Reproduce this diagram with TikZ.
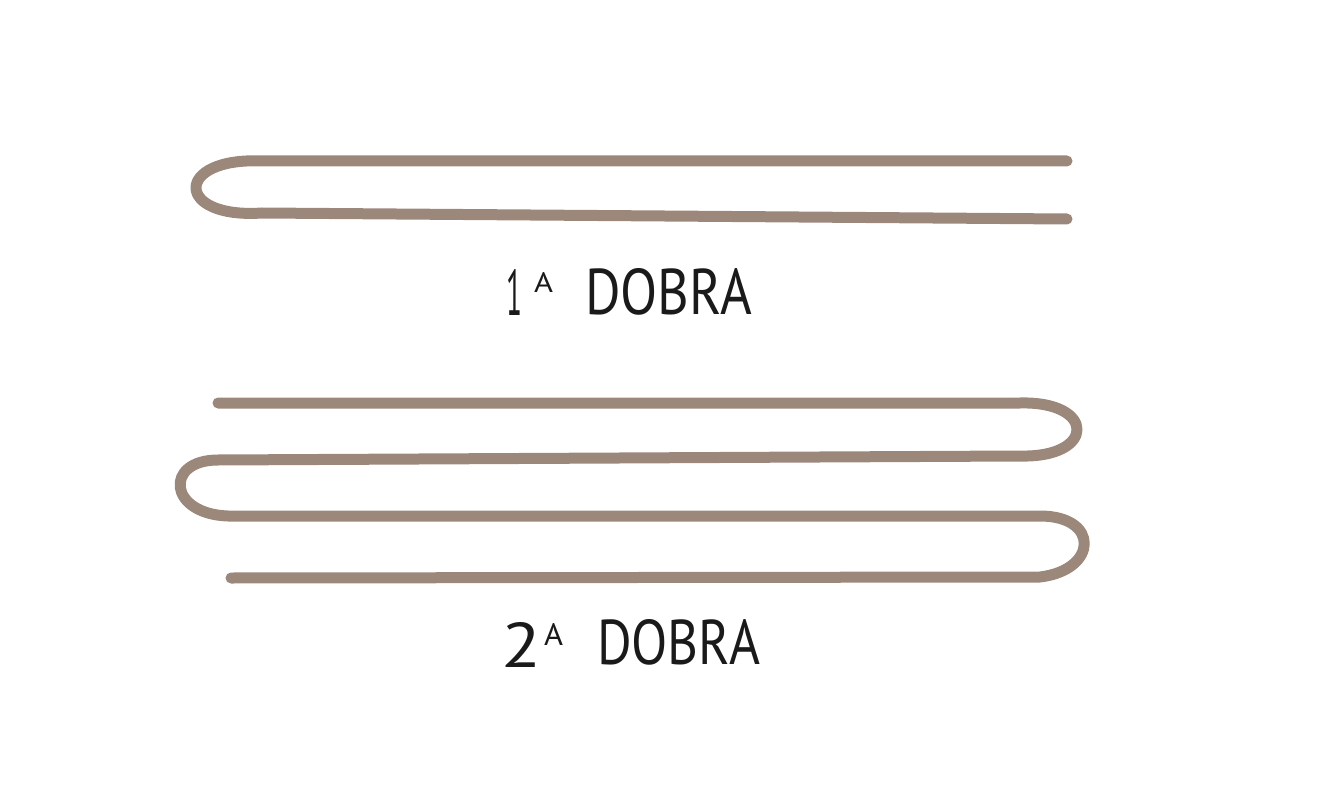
\documentclass[tikz,border=0pt]{standalone}
\usepackage{fontspec}
\setmainfont{PT Sans}
\definecolor{fold}{HTML}{9C877B}
\definecolor{ink}{HTML}{1A1A1A}
\begin{document}
\begin{tikzpicture}[x=1pt,y=-1pt,
  foldline/.style={draw=fold,line width=11pt,line cap=round,line join=round},
  lbl/.style={inner sep=0pt,outer sep=0pt,anchor=south west,text=ink}]
\useasboundingbox (0,0) rectangle (1325,786);
% 1a dobra
\coordinate (a1) at (1067,161);
\coordinate (a2) at (262,161);
\coordinate (a3) at (262,213);
\coordinate (a4) at (1067,219);
\draw[foldline] (a1) -- (a2) .. controls (174,157) and (174,219) .. (a3) -- (a4);
% 2a dobra
\coordinate (b1) at (218,403);
\coordinate (b2) at (1020,403);
\coordinate (b3) at (1020,456);
\coordinate (b4) at (218,460);
\coordinate (b5) at (228,516);
\coordinate (b6) at (1040,516);
\coordinate (b7) at (1040,577);
\coordinate (b8) at (231,578);
\draw[foldline] (b1) -- (b2) .. controls (1096,401) and (1096,458) .. (b3)
  -- (b4) .. controls (164,460) and (168,514) .. (b5)
  -- (b6) .. controls (1100,516) and (1098,570) .. (b7) -- (b8);
% labels
\node[lbl] (n1) at (506,316) {\resizebox{16pt}{46pt}{1}};
\node[lbl] (s1) at (534,293) {\resizebox{19pt}{20pt}{A}};
\node[lbl] (w1) at (585,315) {\resizebox{167pt}{46pt}{DOBRA}};
\node[lbl] (n2) at (501,667) {\resizebox{40pt}{45pt}{2}};
\node[lbl] (s2) at (544,645) {\resizebox{19pt}{22pt}{A}};
\node[lbl] (w2) at (597,665) {\resizebox{163pt}{45pt}{DOBRA}};
\end{tikzpicture}
\end{document}
